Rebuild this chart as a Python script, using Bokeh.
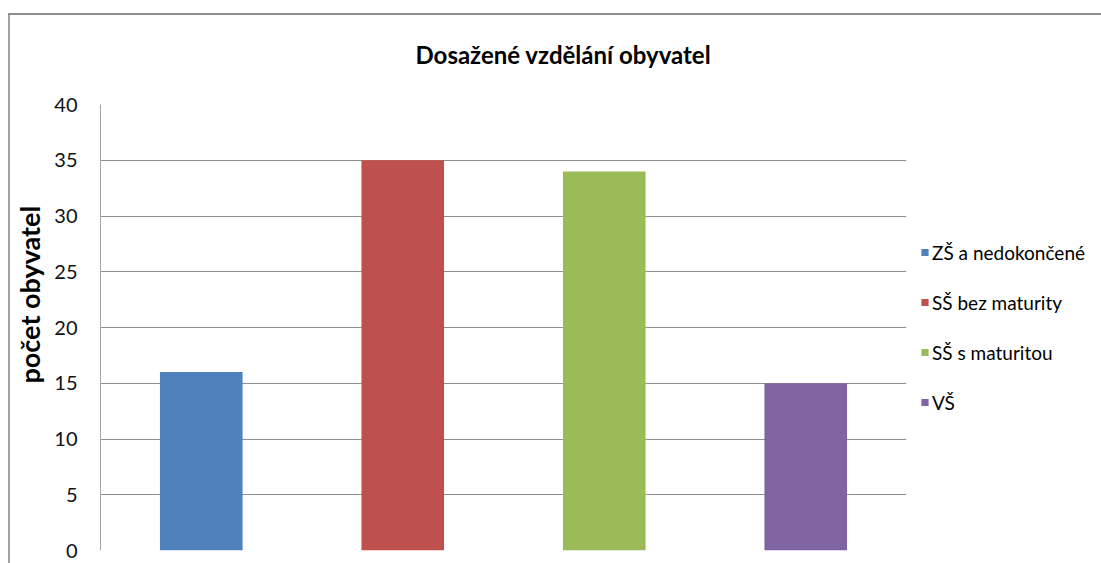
from bokeh.plotting import figure
from bokeh.models import ColumnDataSource, Legend, LegendItem, Title, Range1d, FactorRange
from bokeh.embed import file_html
from bokeh.resources import INLINE

categories = ["ZŠ a nedokončené", "SŠ bez maturity", "SŠ s maturitou", "VŠ"]
values = [16, 35, 34, 15]
colors = ["#4F81BD", "#C0504D", "#9BBB59", "#8064A2"]
y_ticks = [0, 5, 10, 15, 20, 25, 30, 35, 40]

FONT = "Lato"

p = figure(frame_width=806, frame_height=446, x_range=FactorRange(*categories),
           y_range=Range1d(0, 40), output_backend="svg", toolbar_location=None,
           min_border_left=100, min_border_right=195, min_border_top=104,
           min_border_bottom=13)
p.border_fill_color = None
p.background_fill_color = "white"
p.styles = {"background": "linear-gradient(#8e8e8e,#8e8e8e) 8px 13px / 100% 2px no-repeat, "
                          "linear-gradient(#a0a0a0,#a0a0a0) 8px 13px / 2px 100% no-repeat, #ffffff"}

src = ColumnDataSource(dict(cat=categories, val=values, color=colors))
r = p.vbar(x="cat", top="val", width=0.41, color="color", source=src, line_color=None)

p.title.text = "Dosažené vzdělání obyvatel"
p.title.align = "left"
p.title.offset = 315
p.title.text_font = FONT
p.title.text_font_size = "24px"
p.title.text_font_style = "bold"
p.title.text_color = "#000000"
p.title.standoff = 71

p.xaxis.visible = False
p.xgrid.visible = False
p.ygrid.grid_line_color = "#8f8f8f"
p.ygrid.grid_line_width = 1
p.ygrid.ticker = y_ticks
p.yaxis.ticker = y_ticks
p.yaxis.axis_line_color = "#a6a6a6"
p.yaxis.major_tick_line_color = None
p.yaxis.minor_tick_line_color = None
p.yaxis.major_label_text_font = FONT
p.yaxis.major_label_text_font_size = "20px"
p.yaxis.major_label_text_color = "#111111"
p.yaxis.major_label_standoff = 17
p.outline_line_color = None

ylab = Title(text="počet obyvatel", align="left", offset=167, standoff=12,
             text_font=FONT, text_font_size="27px", text_font_style="bold",
             text_color="#000000")
p.add_layout(ylab, "left")

items = [LegendItem(label=c, renderers=[r], index=i) for i, c in enumerate(categories)]
legend = Legend(items=items, location="center_left", orientation="vertical",
                label_text_font=FONT, label_text_font_size="19px", label_text_color="#000000",
                glyph_width=9, glyph_height=9, label_height=20, spacing=27,
                border_line_color=None, background_fill_alpha=0, padding=0, margin=14,
                label_standoff=3)
p.add_layout(legend, "right")

open("out.html", "w").write(file_html(p, INLINE))
